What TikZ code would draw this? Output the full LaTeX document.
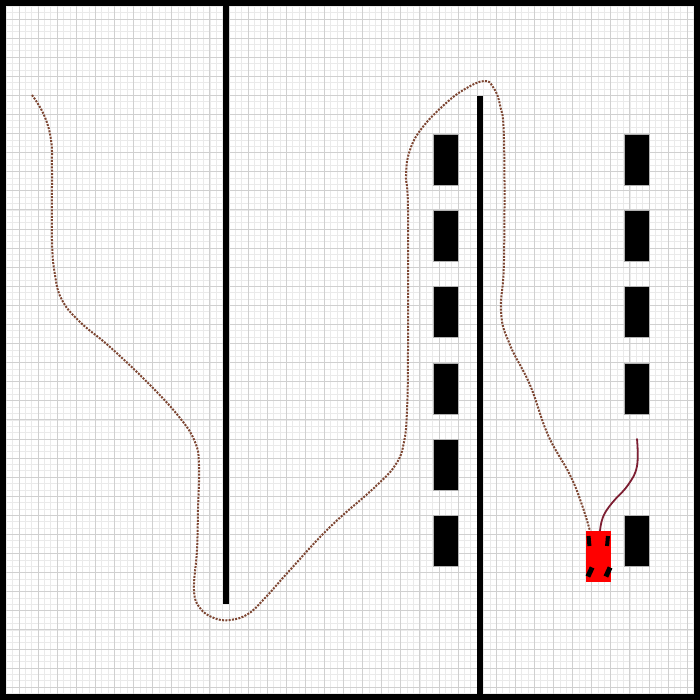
\documentclass[tikz,border=0pt]{standalone}
\usepackage{tikz}
\definecolor{gridlight}{RGB}{234,234,234}
\definecolor{gridheavy}{RGB}{208,208,208}
\definecolor{tracebrown}{RGB}{125,70,50}
\definecolor{tracered}{RGB}{125,30,50}
\tikzset{
  wall/.style={fill=black, draw=none},
  block/.style={fill=black, draw=gray!60, line width=0.3pt},
  wheel/.style={fill=black, draw=none},
  tracedots/.style={tracebrown, line width=2pt, dash pattern=on 2pt off 1.3pt},
  traceline/.style={tracered, line width=1.8pt, line cap=round}
}
\begin{document}
\begin{tikzpicture}[x=1pt, y=-1pt]

        \useasboundingbox (0,0) rectangle (700,700);
        % grid
        \foreach \i in {0,...,110} {
          \draw [gridlight, line width=0.9pt] ({\i*6.3636},0) -- ({\i*6.3636},700);
          \draw [gridlight, line width=0.9pt] (0,{\i*6.3636}) -- (700,{\i*6.3636});
        }
        \foreach \i in {0,...,36} {
          \draw [gridheavy, line width=1pt] ({\i*19.09},0) -- ({\i*19.09},700);
          \draw [gridheavy, line width=1pt] (0,{\i*19.09}) -- (700,{\i*19.09});
        }

        % walls
        \fill [wall] (0,0) rectangle (700,6);
        \fill [wall] (0,694) rectangle (700,700);
        \fill [wall] (0,0) rectangle (6,700);
        \fill [wall] (694,0) rectangle (700,700);
        \fill [wall] (223,0) rectangle (229,604);
        \fill [wall] (477,96) rectangle (483,700);

        % parking blocks
        \foreach \y in {133.7,210,286.5,363,439,515.5}
          \draw [block] (433,\y) rectangle (458,\y+51);
        \foreach \y in {133.7,210,286.5,363,515.5}
          \draw [block] (624,\y) rectangle (649,\y+51);

        % path driven
        \draw [tracedots] plot [smooth, tension=0.7] coordinates {
          (32,95) (44,115) (51,140) (52,170) (52,240) (55,275) (62,300) (80,322)
          (110,347) (150,385) (180,418) (195,442) (199,465) (198,510) (197,550)
          (194,590) (200,608) (214,618) (230,620) (248,614) (265,598) (290,570)
          (330,527) (375,487) (396,464) (404,442) (407,410) (408,350) (408,210)
          (406,175) (410,150) (422,128) (445,104) (465,89) (484,81) (493,87)
          (500,105) (504,140) (504,260) (501,312) (510,345) (530,385) (548,435)
          (570,475) (582,505) (590,531)};
        \draw [traceline] plot [smooth, tension=0.7] coordinates {
          (637,439) (637,466) (628,485) (612,503) (603,517) (600,531)};

        % car
        \fill [red] (586,531) rectangle (611,582);
        \fill [wheel, rotate around={5:(589,541)}] (587,536) rectangle (591,546);
        \fill [wheel, rotate around={-5:(607.5,541)}] (605.5,536) rectangle (609.5,546);
        \fill [wheel, rotate around={-25:(590,572)}] (587.5,567) rectangle (592.5,577);
        \fill [wheel, rotate around={-25:(608,572)}] (605.5,567) rectangle (610.5,577);
      \end{tikzpicture}
\end{document}
